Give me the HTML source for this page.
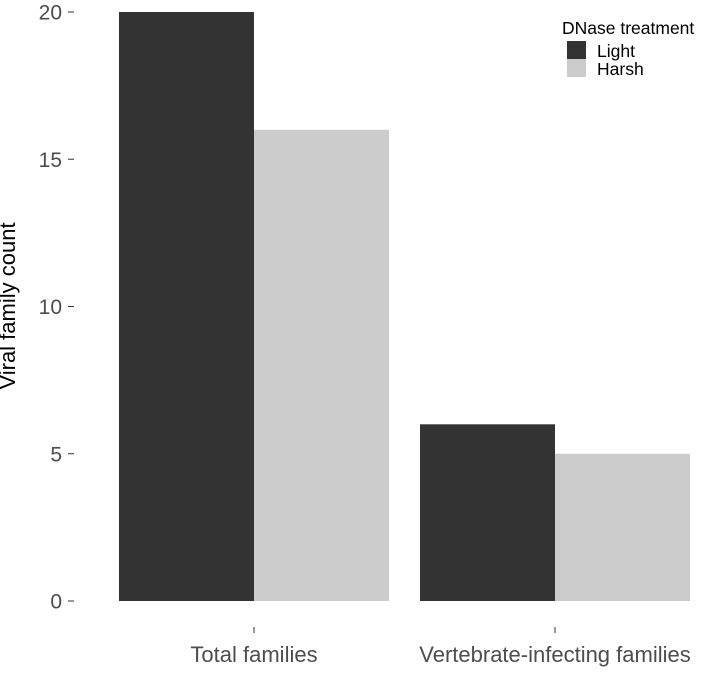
<!DOCTYPE html>
<html><head><meta charset="utf-8"><style>
body{margin:0;background:#fff;}
svg text{font-family:"Liberation Sans",Arial,sans-serif;}
</style></head><body>
<svg id="chart" width="709" height="668" xmlns="http://www.w3.org/2000/svg">
<g id="plot"></g>
<text x="15" y="306" transform="rotate(-90 15 306)" text-anchor="middle" font-size="22" fill="#000">Viral family count</text>
<g>
<text x="562" y="34" font-size="17.5" fill="#000">DNase treatment</text>
<rect x="567" y="41" width="19" height="18" fill="#333333"></rect>
<text x="597" y="57" font-size="17.5" fill="#000">Light</text>
<rect x="567" y="59" width="19" height="18" fill="#cccccc"></rect>
<text x="597" y="75" font-size="17.5" fill="#000">Harsh</text>
</g>
</svg>
<script>
const categories = ["Total families", "Vertebrate-infecting families"];
const lightValues = [20, 6];
const harshValues = [16, 5];
const yTicks = [0, 5, 10, 15, 20];

const NS = "http://www.w3.org/2000/svg";
const g = document.getElementById("plot");
function y(v){ return 601 - v * (589 / 20); }
function xCenter(i){ return 254 + i * 301; }
const barW = 135;

function mk(tag, attrs){ const e = document.createElementNS(NS, tag); for (const k in attrs) e.setAttribute(k, attrs[k]); g.appendChild(e); return e; }

yTicks.forEach(t => {
  const line = mk("line", {x1: 68, x2: 74, y1: y(t), y2: y(t), stroke: "#333", "stroke-width": 1});
  
  
  const tx = mk("text", {x: 62, y: y(t) + 7.5, "text-anchor": "end", "font-size": 21, fill: "#4d4d4d"});
  tx.textContent = t;
  
  
});

categories.forEach((c, i) => {
  const cx = xCenter(i);
  const b1 = mk("rect", {x: cx - barW, y: y(lightValues[i]), width: barW, height: y(0) - y(lightValues[i]), fill: "#333333"});
  
  
  const b2 = mk("rect", {x: cx, y: y(harshValues[i]), width: barW, height: y(0) - y(harshValues[i]), fill: "#cccccc"});
  
  
  const tk = mk("line", {x1: cx, x2: cx, y1: 627, y2: 633, stroke: "#333", "stroke-width": 1});
  
  
  const lb = mk("text", {x: cx, y: 662, "text-anchor": "middle", "font-size": 22, fill: "#4d4d4d"});
  lb.textContent = c;
  
  
});
</script>
</body></html>
